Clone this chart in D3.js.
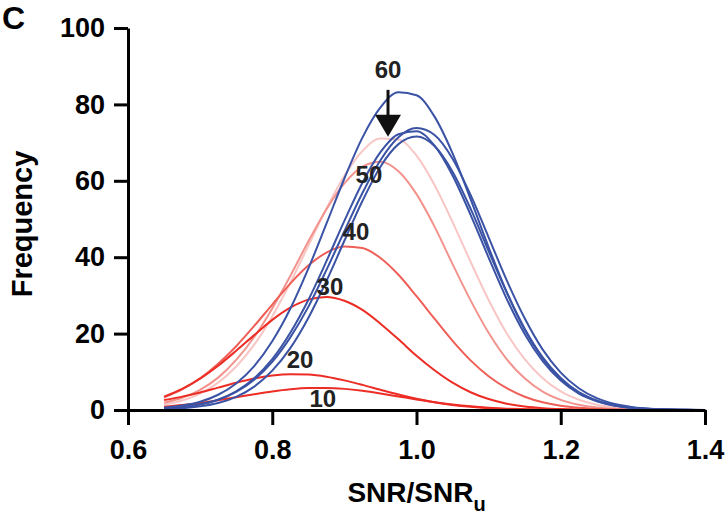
<!DOCTYPE html>
<html>
<head>
<meta charset="utf-8">
<script src="https://cdn.jsdelivr.net/npm/d3@7/dist/d3.min.js"></script>
<style>
  body { margin: 0; background: #fff; }
  svg text { font-family: "Liberation Sans", Arial, Helvetica, sans-serif; font-weight: bold; }
</style>
</head>
<body>
<svg id="chart" width="727" height="522"></svg>
<script>
// x grid of the fitted curves (SNR/SNR_u)
const xs = [0.650, 0.675, 0.700, 0.725, 0.750, 0.775, 0.800, 0.825, 0.850, 0.875,
            0.900, 0.925, 0.950, 0.975, 1.000, 1.025, 1.050, 1.075, 1.100, 1.125,
            1.150, 1.175, 1.200, 1.225, 1.250, 1.275, 1.300, 1.325, 1.350, 1.375, 1.400];

// red family, labelled by dose
const red10 = [0.84, 1.28, 1.86, 2.55, 3.33, 4.12, 4.84, 5.41, 5.74, 5.78, 5.53, 5.02, 4.33, 3.55, 2.76, 2.04,
               1.43, 0.95, 0.60, 0.36, 0.21, 0.11, 0.06, 0.03, 0.01, 0, 0, 0, 0, 0, 0];
const red20 = [2.60, 3.50, 4.60, 5.86, 7.12, 8.22, 9.01, 9.38, 9.27, 8.71, 7.76, 6.58, 5.29, 4.04, 2.93, 2.02,
               1.32, 0.82, 0.48, 0.27, 0.14, 0.07, 0.03, 0.01, 0, 0, 0, 0, 0, 0, 0];
const red30 = [3.51, 5.52, 8.21, 11.6, 15.5, 19.6, 23.6, 26.8, 28.9, 29.6, 28.6, 26.2, 22.6, 18.5, 14.2, 10.4,
               7.15, 4.65, 2.86, 1.66, 0.91, 0.47, 0.23, 0.11, 0.05, 0.02, 0.01, 0, 0, 0, 0];
const red40 = [3.30, 5.40, 8.30, 12.1, 16.7, 22.0, 27.6, 33.1, 37.8, 41.2, 42.8, 42.4, 39.8, 35.4, 29.8, 23.9,
               18.1, 13.0, 8.84, 5.70, 3.48, 2.02, 1.11, 0.58, 0.28, 0.13, 0.06, 0.02, 0.01, 0, 0];
const red50 = [1.90, 3.20, 5.30, 8.48, 13.1, 19.1, 26.6, 35.1, 44.1, 52.5, 59.3, 63.7, 65.0, 62.5, 56.5, 48.0,
               38.2, 28.7, 20.2, 13.3, 8.3, 4.8, 2.65, 1.37, 0.66, 0.30, 0.13, 0.05, 0.02, 0.01, 0];
const red60 = [1.40, 2.50, 4.30, 7.16, 11.4, 17.1, 24.5, 33.3, 43.0, 52.7, 61.3, 67.8, 71.1, 70.8, 66.6, 58.9,
               49.2, 38.8, 28.8, 20.1, 13.3, 8.3, 4.85, 2.7, 1.4, 0.69, 0.32, 0.14, 0.06, 0.02, 0.01];

// blue family
const blueA = [0.60, 1.15, 2.15, 3.99, 6.96, 11.5, 18.0, 26.5, 37.0, 48.7, 60.6, 71.3, 79.2, 83.2, 82.4, 76.8,
               67.2, 55.2, 42.6, 30.9, 21.0, 13.5, 8.1, 4.6, 2.4, 1.2, 0.57, 0.25, 0.10, 0.04, 0.01];
const blueB = [0.45, 0.80, 1.48, 2.69, 4.75, 7.95, 12.6, 19.0, 27.0, 36.6, 46.8, 56.8, 65.4, 71.4, 73.8, 72.0,
               65.8, 56.3, 45.2, 34.0, 24.0, 15.8, 9.8, 5.7, 3.1, 1.57, 0.75, 0.33, 0.14, 0.05, 0.02];
const blueC = [0.40, 0.75, 1.45, 2.71, 4.88, 8.30, 13.3, 20.2, 28.8, 38.9, 49.5, 59.5, 67.5, 72.2, 73.0, 69.2,
               61.4, 51.1, 39.9, 29.1, 19.9, 12.8, 7.7, 4.3, 2.3, 1.13, 0.52, 0.23, 0.09, 0.03, 0.01];
const blueD = [0.25, 0.48, 0.95, 1.81, 3.43, 6.12, 10.3, 16.2, 24.1, 33.7, 44.3, 54.7, 63.7, 69.6, 71.6, 69.1,
               62.4, 52.7, 41.6, 30.8, 21.3, 13.8, 8.4, 4.7, 2.5, 1.25, 0.58, 0.25, 0.10, 0.04, 0.01];

const xTicks = [0.6, 0.8, 1.0, 1.2, 1.4];
const yTicks = [0, 20, 40, 60, 80, 100];

// dose labels, anchored in data coordinates
const doseLabels = ["60", "50", "40", "30", "20", "10"];
const doseLabelX = [0.9605, 0.934, 0.916, 0.880, 0.8385, 0.870];
const doseLabelY = [86.9, 59.4, 44.5, 30.1, 11.0, 0.8];

// arrow pointing at the 60 peak
const arrowX = 0.9605;
const arrowTop = 83.8;
const arrowTip = 71.5;

const series = [
  { values: red60, color: "#f8c6c4" },
  { values: red50, color: "#f2938d" },
  { values: red40, color: "#ef5f57" },
  { values: red30, color: "#ec2d25" },
  { values: red20, color: "#ec2d25" },
  { values: red10, color: "#ec2d25" },
  { values: blueA, color: "#3b53a5" },
  { values: blueB, color: "#3b53a5" },
  { values: blueC, color: "#3b53a5" },
  { values: blueD, color: "#3b53a5" }
];

const svg = d3.select("#chart");

const x = d3.scaleLinear().domain([0.6, 1.4]).range([128, 705]);
const y = d3.scaleLinear().domain([0, 100]).range([410, 28]);

const line = d3.line()
  .x((d, i) => x(xs[i]))
  .y(d => y(d))
  .curve(d3.curveMonotoneX);

svg.append("g")
  .selectAll("path")
  .data(series)
  .join("path")
  .attr("d", d => line(d.values))
  .attr("fill", "none")
  .attr("stroke", d => d.color)
  .attr("stroke-width", 2);

// axes
const xAxis = svg.append("g")
  .attr("transform", `translate(0,${y(0)})`)
  .call(d3.axisBottom(x).tickValues(xTicks).tickFormat(d3.format(".1f"))
    .tickSizeInner(15).tickSizeOuter(0).tickPadding(15));

const yAxis = svg.append("g")
  .attr("transform", `translate(${x(0.6)},0)`)
  .call(d3.axisLeft(y).tickValues(yTicks).tickSizeInner(14).tickSizeOuter(0).tickPadding(9));

[xAxis, yAxis].forEach(g => {
  g.select(".domain").attr("stroke", "#000").attr("stroke-width", 3);
  g.selectAll(".tick line").attr("stroke", "#000").attr("stroke-width", 3);
  g.selectAll(".tick text").attr("fill", "#000").style("font-size", "27px");
});

// axis titles
const xTitle = svg.append("text")
  .attr("x", (x(0.6) + x(1.4)) / 2)
  .attr("y", 502)
  .attr("text-anchor", "middle")
  .style("font-size", "28px")
  .text("SNR/SNR");
xTitle.append("tspan")
  .attr("dy", 9)
  .style("font-size", "20px")
  .text("u");

svg.append("text")
  .attr("transform", `translate(32,${(y(0) + y(100)) / 2 + 5}) rotate(-90)`)
  .attr("text-anchor", "middle")
  .style("font-size", "29px")
  .text("Frequency");

svg.append("text")
  .attr("x", 2)
  .attr("y", 29)
  .style("font-size", "32px")
  .text("C");

// dose labels
svg.append("g")
  .selectAll("text")
  .data(doseLabels)
  .join("text")
  .attr("x", (d, i) => x(doseLabelX[i]))
  .attr("y", (d, i) => y(doseLabelY[i]))
  .attr("text-anchor", "middle")
  .attr("fill", "#222")
  .style("font-size", "24px")
  .text(d => d);

// arrow
const ax = x(arrowX);
const headH = 22, headW = 13;
svg.append("line")
  .attr("x1", ax).attr("x2", ax)
  .attr("y1", y(arrowTop)).attr("y2", y(arrowTip) - headH + 2)
  .attr("stroke", "#111")
  .attr("stroke-width", 3);
svg.append("path")
  .attr("d", `M${ax - headW},${y(arrowTip) - headH} L${ax + headW},${y(arrowTip) - headH} L${ax},${y(arrowTip)} Z`)
  .attr("fill", "#111");
</script>
</body>
</html>
